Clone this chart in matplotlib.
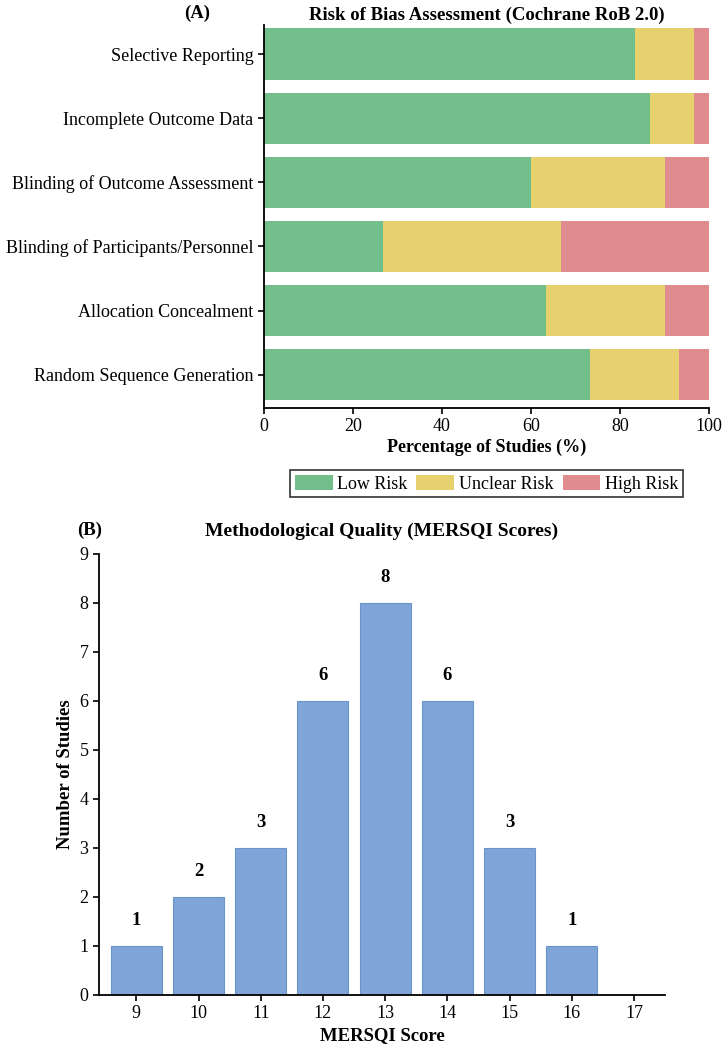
import numpy as np
import matplotlib
matplotlib.use("Agg")
import matplotlib.pyplot as plt

plt.rcParams['font.family'] = ['Liberation Serif', 'DejaVu Serif']

# panel A - risk of bias (percent of studies)
domains = ["Random Sequence Generation", "Allocation Concealment",
           "Blinding of Participants/Personnel", "Blinding of Outcome Assessment",
           "Incomplete Outcome Data", "Selective Reporting"]
low_risk = [73.3, 63.3, 26.7, 60.0, 86.7, 83.3]
unclear_risk = [20.0, 26.7, 40.0, 30.0, 10.0, 13.3]
high_risk = [6.7, 10.0, 33.3, 10.0, 3.3, 3.3]

# panel B - MERSQI score distribution
scores = [9, 10, 11, 12, 13, 14, 15, 16]
counts = [1, 2, 3, 6, 8, 6, 3, 1]

c_low = "#72bf8c"
c_unc = "#e6d16e"
c_high = "#e08b8e"
c_bar = "#7fa5d8"

fig = plt.figure(figsize=(7.25, 10.53), dpi=100)

# ---- (A)
ax1 = fig.add_axes([0.364, 0.6125, 0.614, 0.3635])
y = np.arange(len(domains))
low = np.array(low_risk)
unc = np.array(unclear_risk)
high = np.array(high_risk)
ax1.barh(y, low, height=0.8, color=c_low, label="Low Risk")
ax1.barh(y, unc, left=low, height=0.8, color=c_unc, label="Unclear Risk")
ax1.barh(y, high, left=low + unc, height=0.8, color=c_high, label="High Risk")
ax1.set_yticks(y)
ax1.set_yticklabels(domains, fontsize=13)
ax1.set_xlim(0, 100)
ax1.set_ylim(-0.52, 5.45)
ax1.set_xticks([0, 20, 40, 60, 80, 100])
ax1.tick_params(axis='x', labelsize=13)
ax1.set_xlabel("Percentage of Studies (%)", fontsize=13, fontweight='bold', labelpad=2)
ax1.set_title("Risk of Bias Assessment (Cochrane RoB 2.0)", fontsize=13.5, fontweight='bold', pad=4)
ax1.spines['top'].set_visible(False)
ax1.spines['right'].set_visible(False)
leg = ax1.legend(loc='upper center', bbox_to_anchor=(0.5, -0.163), ncol=3, fontsize=13,
                 frameon=True, fancybox=False, edgecolor='black', handlelength=2.1,
                 handleheight=0.9, columnspacing=0.5, handletextpad=0.25,
                 borderpad=0.25, borderaxespad=0)
leg.get_frame().set_linewidth(1.2)
fig.text(197 / 725, 1 - 13 / 1053, "(A)", fontsize=13.5, fontweight='bold', ha='center', va='center')

# ---- (B)
ax2 = fig.add_axes([0.1366, 0.0551, 0.7807, 0.4188])
ax2.bar(scores, counts, width=0.82, color=c_bar, edgecolor="#6c93cc", linewidth=0.8)
for s, c in zip(scores, counts):
    ax2.text(s, c + 0.35, str(c), ha='center', va='bottom', fontsize=13.5, fontweight='bold')
ax2.set_xlim(8.4, 17.5)
ax2.set_ylim(0, 9)
ax2.set_xticks(range(9, 18))
ax2.set_yticks(range(0, 10))
ax2.tick_params(labelsize=13)
ax2.set_xlabel("MERSQI Score", fontsize=13.5, fontweight='bold', labelpad=3)
ax2.set_ylabel("Number of Studies", fontsize=13.5, fontweight='bold')
ax2.set_title("Methodological Quality (MERSQI Scores)", fontsize=14, fontweight='bold', pad=13)
ax2.spines['top'].set_visible(False)
ax2.spines['right'].set_visible(False)
fig.text(90 / 725, 1 - 530 / 1053, "(B)", fontsize=13.5, fontweight='bold', ha='center', va='center')

for ax in (ax1, ax2):
    for sp in ('left', 'bottom'):
        ax.spines[sp].set_linewidth(1.3)
    ax.tick_params(width=1.2, length=4)

fig.savefig("out.png", dpi=100)
